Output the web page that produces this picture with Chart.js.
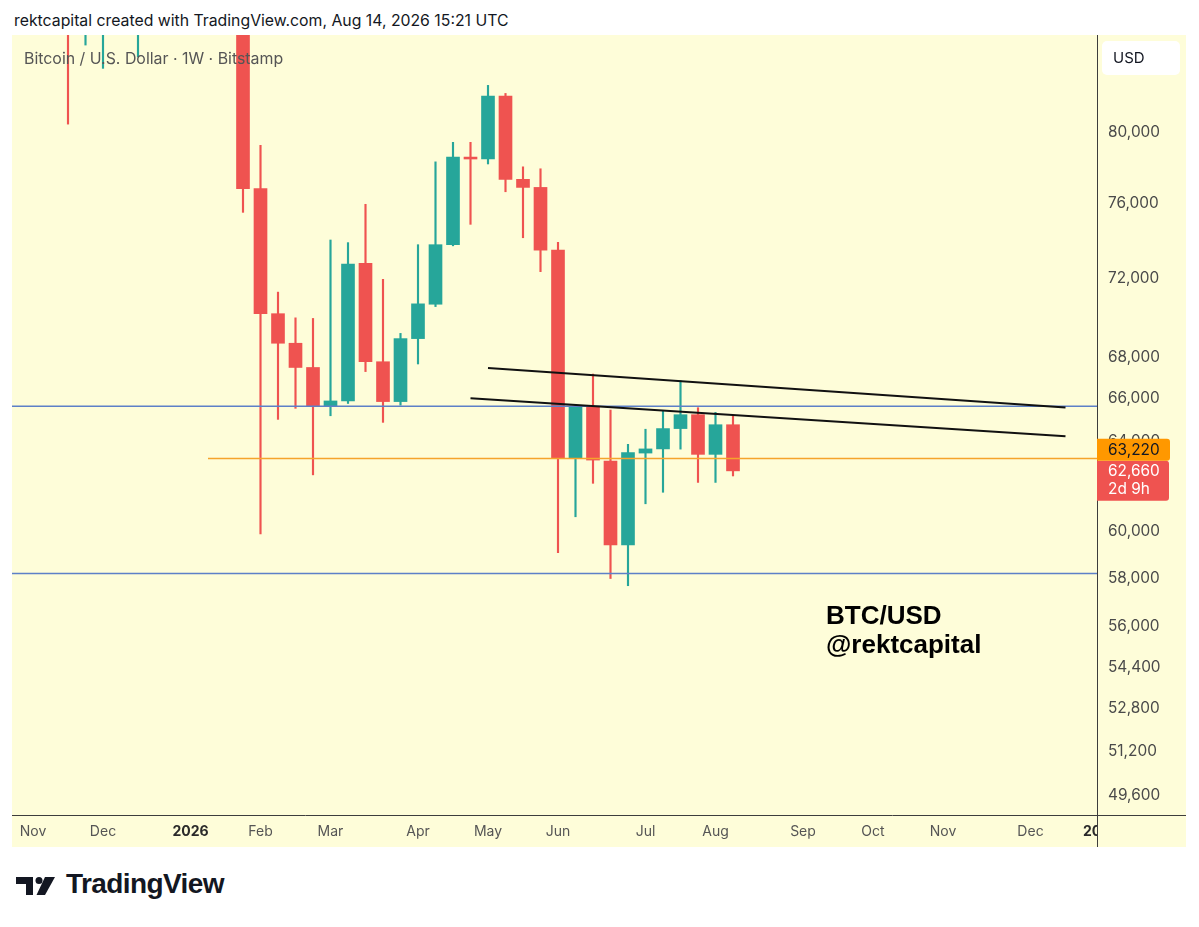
<!DOCTYPE html>
<html>
<head>
<meta charset="utf-8">
<script src="https://cdn.jsdelivr.net/npm/chart.js@4.4.1/dist/chart.umd.min.js"></script>
<style>
  html, body { margin: 0; padding: 0; background: #fff; width: 1199px; height: 927px; overflow: hidden; }
  #head { position: absolute; left: 14px; top: 11px; font: 15.8px Inter, sans-serif; color: #131722; white-space: nowrap; }
  #wrap { position: absolute; left: 12px; top: 35px; width: 1174px; height: 812px; background: #fefdd9; }
  #foot { position: absolute; left: 14px; top: 874px; height: 26px; }
  #foot svg { position: absolute; left: 0; top: 2px; }
  #foot span { position: absolute; left: 52px; top: -6px; font: bold 28px "Liberation Sans", Arial, sans-serif; letter-spacing: -0.6px; color: #131722; white-space: nowrap; }
</style>
</head>
<body>
<div id="head">rektcapital created with TradingView.com, Aug 14, 2026 15:21 UTC</div>
<div id="wrap"><canvas id="c"></canvas></div>
<div id="foot">
  <svg width="44" height="20" viewBox="0 0 44 20">
    <rect x="2" y="1" width="17" height="7" fill="#131722"/>
    <rect x="12" y="1" width="7" height="18" fill="#131722"/>
    <circle cx="25" cy="4.6" r="3.5" fill="#131722"/>
    <polygon points="31,1 41,1 31,19 22.5,19" fill="#131722"/>
  </svg>
  <span>TradingView</span>
</div>
<script>
// weekly candles, Bitstamp BTC/USD
const weeks = ['2025-10-27','2025-11-03','2025-11-10','2025-11-17','2025-11-24','2025-12-01','2025-12-08',
  '2025-12-15','2025-12-22','2025-12-29','2026-01-05','2026-01-12','2026-01-19','2026-01-26','2026-02-02',
  '2026-02-09','2026-02-16','2026-02-23','2026-03-02','2026-03-09','2026-03-16','2026-03-23','2026-03-30',
  '2026-04-06','2026-04-13','2026-04-20','2026-04-27','2026-05-04','2026-05-11','2026-05-18','2026-05-25',
  '2026-06-01','2026-06-08','2026-06-15','2026-06-22','2026-06-29','2026-07-06','2026-07-13','2026-07-20',
  '2026-07-27','2026-08-03','2026-08-10'];
const open  = [114100,110500,104700,94200,86800,90400,91200,88200,88600,87800,91500,90600,93600,88000,76800,
  70180,68700,67510,65660,65900,72780,67790,65870,68930,70660,73760,78570,78460,82100,77320,76870,
  73470,63230,65600,63100,59400,63470,63660,64600,65250,63410,64780];
const high  = [116400,110800,107500,96600,93100,94100,94500,90300,90000,94700,94800,97900,93700,90000,79240,
  71280,69970,69940,74010,73870,75940,71940,69190,73760,78300,79410,79410,82740,82260,78020,77910,
  73880,65700,67190,65470,63870,64570,65440,66870,65580,65360,65230];
const low   = [106300,98900,93000,80460,85180,83760,87500,84460,86500,87000,89300,90000,86100,75500,59870,
  65030,65550,62480,65200,65780,67310,64890,65700,67680,70540,73700,74850,78180,76630,74130,72340,
  59070,60620,62100,57980,57680,61190,61700,63650,62140,62140,62430];
const close = [110500,104700,94200,86800,90400,91200,88200,88600,87800,91500,90600,93600,88000,76800,70180,
  68700,67510,65660,65900,72740,67790,65870,68930,70680,73760,78570,78460,82100,77320,76870,73470,
  63230,65650,63150,59400,63490,63660,64600,65250,63410,64780,62660];

// horizontal levels and trendlines
const levelHigh = 65650;
const levelLow = 58190;
const levelOrange = 63220;
const orangeFrom = 11;
const trendUpper = [[27, 67480], [60, 65590]];
const trendLower = [[26, 66030], [60, 64240]];

// axis ticks
const priceTicks = [49600, 51200, 52800, 54400, 56000, 58000, 60000, 62000, 64000, 66000, 68000, 72000, 76000, 80000];
const monthTickWeeks = [1, 5, 10, 14, 18, 23, 27, 31, 36, 40, 45, 49, 53, 58, 62];
const monthTickLabels = ['Nov', 'Dec', '2026', 'Feb', 'Mar', 'Apr', 'May', 'Jun', 'Jul', 'Aug', 'Sep', 'Oct', 'Nov', 'Dec', '2027'];

const lastClose = close[close.length - 1];
const countdown = '2d 9h';

const UP = '#26a69a', DOWN = '#ef5350', BG = '#fefdd9';
const xMin = -0.2, xMax = 61.8;

const candleColors = close.map((c, i) => c >= open[i] ? UP : DOWN);
const isYear = ctx => !!(ctx.tick && /^\d/.test(ctx.tick.label));

const overlay = {
  id: 'overlay',
  afterDatasetsDraw(chart) {
    // time labels stop at the price axis
    const { ctx, chartArea: a } = chart;
    ctx.save();
    ctx.fillStyle = BG;
    ctx.fillRect(a.right, a.bottom, chart.width - a.right, chart.height - a.bottom);
    ctx.restore();
  },
  afterDraw(chart) {
    const { ctx, chartArea: a, scales } = chart;
    const y = scales.y;
    ctx.save();
    ctx.strokeStyle = '#3d3d3d';
    ctx.lineWidth = 1;
    ctx.beginPath();
    ctx.moveTo(a.right + 0.5, 0); ctx.lineTo(a.right + 0.5, chart.height);
    ctx.moveTo(0, a.bottom + 0.5); ctx.lineTo(chart.width, a.bottom + 0.5);
    ctx.stroke();

    ctx.textBaseline = 'middle';
    ctx.fillStyle = '#555';
    ctx.font = '15.9px Inter, sans-serif';
    ctx.fillText('Bitcoin / U.S. Dollar \u00b7 1W \u00b7 Bitstamp', 12, 24);

    // currency button
    ctx.fillStyle = '#fff';
    ctx.beginPath();
    ctx.roundRect(a.right + 5, 6, 78, 34, 5);
    ctx.fill();
    ctx.fillStyle = '#131722';
    ctx.font = '15px Inter, sans-serif';
    ctx.fillText('USD', a.right + 16, 23.5);

    // watermark
    ctx.font = 'bold 26px "Liberation Sans", Arial, sans-serif';
    ctx.fillStyle = '#000';
    ctx.textBaseline = 'alphabetic';
    ctx.fillText('BTC/USD', 814, 589);
    ctx.fillText('@rektcapital', 814, 618);

    // last price + level labels
    const redY = y.getPixelForValue(lastClose);
    const redTop = redY - 10;
    ctx.fillStyle = DOWN;
    ctx.beginPath();
    ctx.roundRect(a.right, redTop, 72, 40, [0, 3, 3, 0]);
    ctx.fill();
    ctx.fillStyle = '#ff9800';
    ctx.beginPath();
    ctx.roundRect(a.right, redTop - 22, 73, 22, [0, 3, 3, 0]);
    ctx.fill();
    ctx.textBaseline = 'middle';
    ctx.font = '15.4px Inter, sans-serif';
    ctx.fillStyle = '#131722';
    ctx.fillText(levelOrange.toLocaleString('en-US'), a.right + 11, redTop - 10.5);
    ctx.fillStyle = '#fff';
    ctx.fillText(lastClose.toLocaleString('en-US'), a.right + 11, redTop + 10.5);
    ctx.fillText(countdown, a.right + 11, redTop + 28.5);
    ctx.restore();
  }
};

const line = (pts, color, width, order) => ({
  type: 'line',
  data: pts.map(p => ({ x: p[0], y: p[1] })),
  borderColor: color,
  borderWidth: width,
  pointRadius: 0,
  tension: 0,
  order: order
});

new Chart(document.getElementById('c'), {
  type: 'bar',
  data: {
    datasets: [
      line([[xMin, levelHigh], [xMax, levelHigh]], '#5d80c8', 1.5, 1),
      line([[xMin, levelLow], [xMax, levelLow]], '#5d80c8', 1.5, 1),
      line([[orangeFrom, levelOrange], [xMax, levelOrange]], '#f5a42c', 1.5, 1),
      line(trendUpper, '#111', 2, 0),
      line(trendLower, '#111', 2, 0),
      {
        data: weeks.map((w, i) => ({ x: i, y: [open[i], close[i]] })),
        backgroundColor: candleColors,
        barThickness: 13,
        grouped: false,
        order: 2
      },
      {
        data: weeks.map((w, i) => ({ x: i, y: [low[i], high[i]] })),
        backgroundColor: candleColors,
        barThickness: 1.5,
        grouped: false,
        order: 3
      }
    ]
  },
  options: {
    responsive: true,
    maintainAspectRatio: false,
    animation: false,
    layout: { padding: 0 },
    plugins: { legend: { display: false }, tooltip: { enabled: false } },
    scales: {
      x: {
        type: 'linear',
        bounds: 'data',
        offset: false,
        min: xMin,
        max: xMax,
        grid: { display: false, drawTicks: false },
        border: { display: false },
        afterBuildTicks: s => { s.ticks = monthTickWeeks.map(v => ({ value: v })); },
        afterFit: s => { s.height = 32; s.paddingLeft = 0; s.paddingRight = 0; },
        ticks: {
          autoSkip: false,
          maxRotation: 0,
          padding: 8,
          color: ctx => isYear(ctx) ? '#2a2a2a' : '#555',
          font: ctx => ({ family: 'Inter, sans-serif', size: 14, weight: isYear(ctx) ? 'bold' : 'normal' }),
          callback: (v, i) => monthTickLabels[i]
        }
      },
      y: {
        type: 'logarithmic',
        bounds: 'data',
        position: 'right',
        min: 48890,
        max: 85800,
        grid: { display: false, drawTicks: false },
        border: { display: false },
        afterBuildTicks: s => { s.ticks = priceTicks.map(v => ({ value: v })); },
        afterFit: s => { s.width = 89; s.paddingTop = 0; s.paddingBottom = 0; },
        ticks: {
          autoSkip: false,
          padding: 11,
          color: '#4a4a4a',
          font: { family: 'Inter, sans-serif', size: 15.4 },
          callback: v => Number(v).toLocaleString('en-US')
        }
      }
    }
  },
  plugins: [overlay]
});
</script>
</body>
</html>
